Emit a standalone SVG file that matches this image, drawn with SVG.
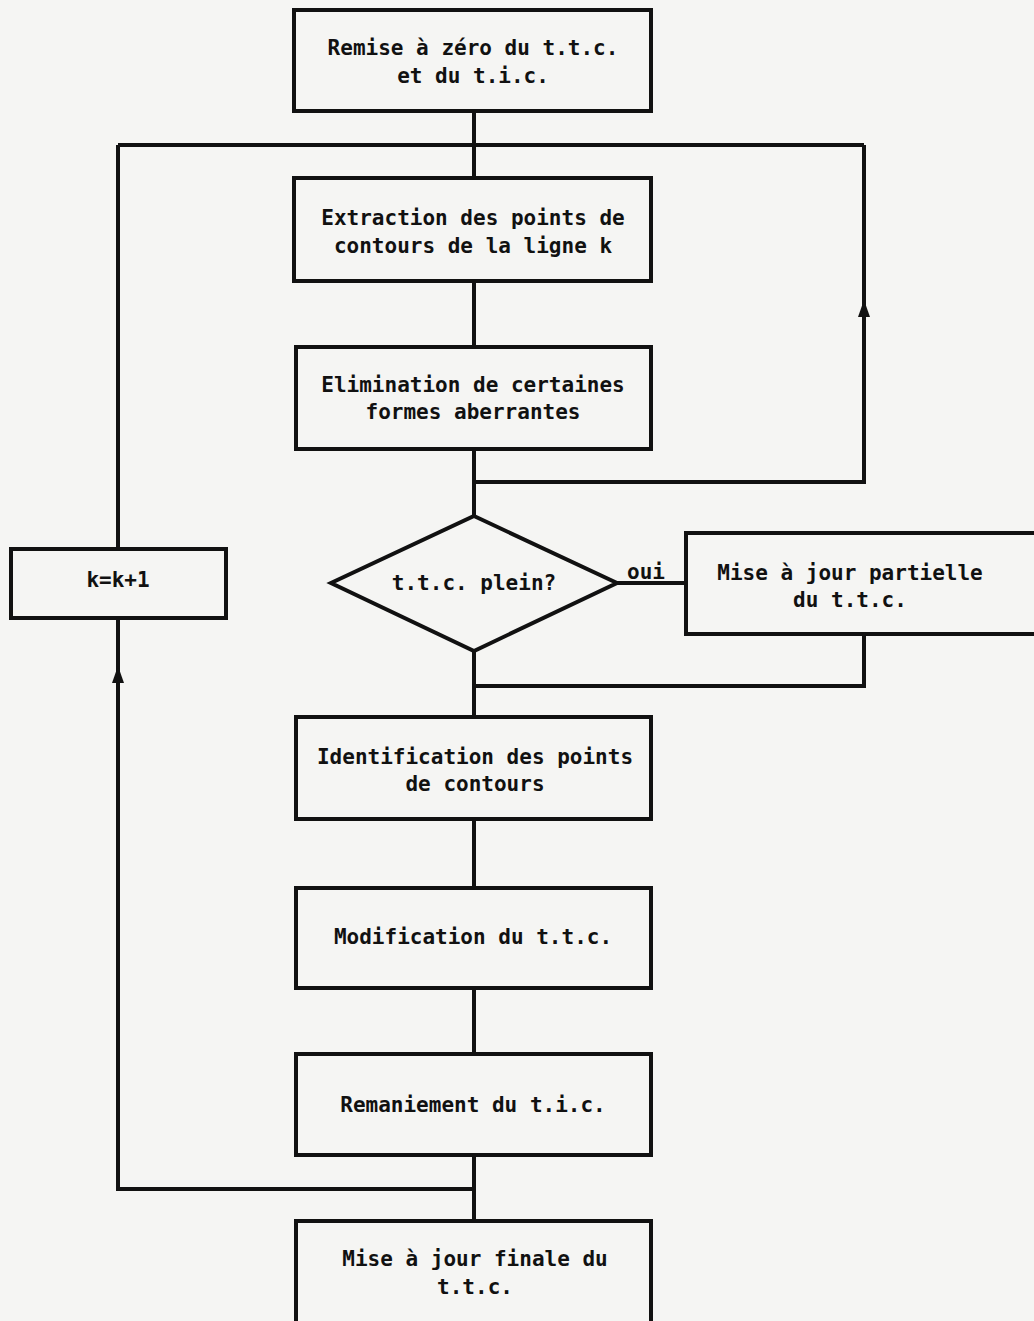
<svg xmlns="http://www.w3.org/2000/svg" width="1034" height="1321" viewBox="0 0 1034 1321">
<style>
.bg{fill:#f5f5f3}
.box{fill:none;stroke:#111;stroke-width:4}
.ln{fill:none;stroke:#111;stroke-width:4;stroke-linejoin:miter}
.t{font-family:"DejaVu Sans Mono","Liberation Mono",monospace;font-size:21px;font-weight:bold;fill:#111;text-anchor:middle}
.ar{fill:#111}
</style>
<rect class="bg" x="0" y="0" width="1034" height="1321"/>
<g id="connectors">
<path class="ln" d="M474 111 V178"/>
<path class="ln" d="M118 145 H864"/>
<path class="ln" d="M474 281 V347"/>
<path class="ln" d="M474 449 V516"/>
<path class="ln" d="M474 482 H864 V145"/>
<polygon class="ar" points="864,300 870,317 858,317"/>
<path class="ln" d="M617 583 H686"/>
<path class="ln" d="M864 634 V686 H474"/>
<path class="ln" d="M474 651 V717"/>
<path class="ln" d="M474 819 V888"/>
<path class="ln" d="M474 988 V1054"/>
<path class="ln" d="M474 1155 V1221"/>
<path class="ln" d="M474 1189 H118 V618"/>
<path class="ln" d="M118 549 V145"/>
<polygon class="ar" points="118,666 124,683 112,683"/>
<text class="t" x="646" y="579">oui</text>
</g>
<g id="n1"><rect class="box" x="294" y="10" width="357" height="101"/>
<text class="t" x="473" y="55">Remise à zéro du t.t.c.</text><text class="t" x="473" y="83">et du t.i.c.</text></g>
<g id="n2"><rect class="box" x="294" y="178" width="357" height="103"/>
<text class="t" x="473" y="225">Extraction des points de</text><text class="t" x="473" y="253">contours de la ligne k</text></g>
<g id="n3"><rect class="box" x="296" y="347" width="355" height="102"/>
<text class="t" x="473" y="392">Elimination de certaines</text><text class="t" x="473" y="419">formes aberrantes</text></g>
<g id="n4"><polygon class="box" points="474,516 617,583 474,651 331,583"/>
<text class="t" x="474" y="590">t.t.c. plein?</text></g>
<g id="n5"><rect class="box" x="686" y="533" width="360" height="101"/>
<text class="t" x="850" y="580">Mise à jour partielle</text><text class="t" x="850" y="607">du t.t.c.</text></g>
<g id="n6"><rect class="box" x="11" y="549" width="215" height="69"/>
<text class="t" x="118" y="587">k=k+1</text></g>
<g id="n7"><rect class="box" x="296" y="717" width="355" height="102"/>
<text class="t" x="475" y="764">Identification des points</text><text class="t" x="475" y="791">de contours</text></g>
<g id="n8"><rect class="box" x="296" y="888" width="355" height="100"/>
<text class="t" x="473" y="944">Modification du t.t.c.</text></g>
<g id="n9"><rect class="box" x="296" y="1054" width="355" height="101"/>
<text class="t" x="473" y="1112">Remaniement du t.i.c.</text></g>
<g id="n10"><rect class="box" x="296" y="1221" width="355" height="110"/>
<text class="t" x="475" y="1266">Mise à jour finale du</text><text class="t" x="475" y="1294">t.t.c.</text></g>
</svg>
